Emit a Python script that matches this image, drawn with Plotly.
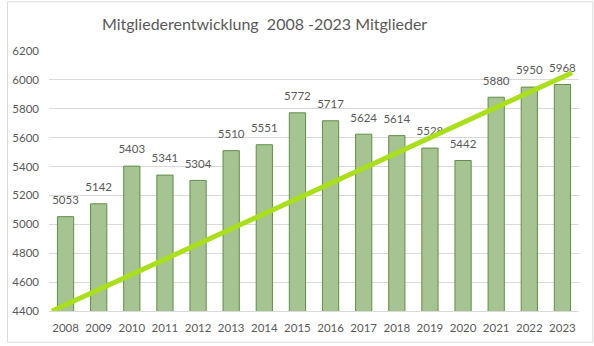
import plotly.graph_objects as go

years = ["2008", "2009", "2010", "2011", "2012", "2013", "2014", "2015",
         "2016", "2017", "2018", "2019", "2020", "2021", "2022", "2023"]
members = [5053, 5142, 5403, 5341, 5304, 5510, 5551, 5772,
           5717, 5624, 5614, 5528, 5442, 5880, 5950, 5968]
trend_x = [-0.41, 15.29]
trend_y = [4400, 6050]
y_ticks = [4400, 4600, 4800, 5000, 5200, 5400, 5600, 5800, 6000, 6200]

idx = list(range(len(years)))
FONT = "Lato, 'Open Sans', sans-serif"
GRAY = "#595959"

fig = go.Figure()
fig.add_trace(go.Bar(
    x=idx, y=members, base=0,
    marker=dict(color="#a5c491", line=dict(color="#5f8f46", width=1)),
    width=0.49, hoverinfo="skip",
))
fig.add_trace(go.Scatter(
    x=idx, y=members, mode="markers+text", text=[str(v) for v in members],
    textposition="top center",
    marker=dict(size=14, color="rgba(0,0,0,0)"),
    textfont=dict(family=FONT, size=11.5, color=GRAY),
    hoverinfo="skip",
))
fig.add_trace(go.Scatter(
    x=trend_x, y=trend_y, mode="lines",
    line=dict(color="#aadf1c", width=5),
    hoverinfo="skip", cliponaxis=False,
))

pw, ph = 536, 262.8
l, t = 43, 50.7
fig.add_shape(type="rect", xref="paper", yref="paper",
              x0=(1 - l) / pw, x1=(593 - l) / pw,
              y0=(313.5 - 345) / ph, y1=(313.5 - 1) / ph,
              line=dict(color="#d9d9d9", width=1), layer="below")

fig.update_layout(
    width=594, height=346,
    margin=dict(l=43, r=15, t=50.7, b=32.5),
    paper_bgcolor="white", plot_bgcolor="white",
    showlegend=False,
    title=dict(text="Mitgliederentwicklung  2008 -2023 Mitglieder",
               x=(261 - 43) / 536, xref="paper", xanchor="center",
               y=1 - 24 / 346, yref="container", yanchor="middle",
               font=dict(family=FONT, size=16, color=GRAY)),
    xaxis=dict(range=[-0.5, 15.5], tickvals=idx, ticktext=years,
               showgrid=False, zeroline=False, showline=True,
               linecolor="#d9d9d9", linewidth=1, ticks="",
               ticklabelstandoff=6,
               tickfont=dict(family=FONT, size=11.5, color=GRAY),
               fixedrange=True),
    yaxis=dict(range=[4400, 6200], tickvals=y_ticks,
               showgrid=True, gridcolor="#d9d9d9", gridwidth=1,
               zeroline=False, showline=False, ticks="",
               ticklabelstandoff=9,
               tickfont=dict(family=FONT, size=11.5, color=GRAY),
               fixedrange=True),
)

fig.write_html("out.html")
